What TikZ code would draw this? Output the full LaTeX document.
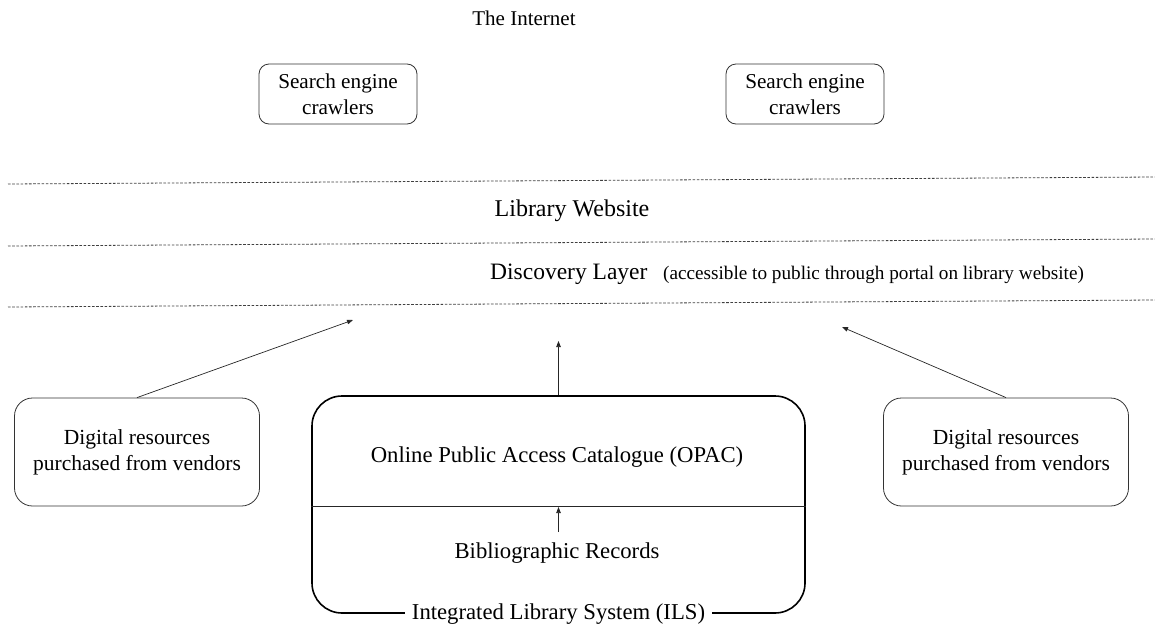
\documentclass[tikz,border=0pt]{standalone}
\usepackage{fontspec}
\setmainfont{Liberation Serif}
\usetikzlibrary{arrows.meta}
\begin{document}
\begin{tikzpicture}[x=1pt,y=-1pt,
  txt/.style={inner sep=0pt,font=\fontsize{22.7}{26}\selectfont,align=center},
  smallbox/.style={draw=black!80,line width=0.8pt,rounded corners=10pt,minimum width=158pt,minimum height=60pt,inner sep=0pt,align=center,font=\fontsize{21.2}{26}\selectfont},
  digbox/.style={draw=black!80,line width=0.8pt,rounded corners=18pt,minimum width=245pt,minimum height=108pt,inner sep=0pt,align=center,font=\fontsize{21.5}{26}\selectfont},
  bigbox/.style={draw=black,line width=1.6pt,rounded corners=30pt,minimum width=493pt,minimum height=217pt,inner sep=0pt},
  dashline/.style={draw=black!75,line width=0.8pt,dash pattern=on 2.6pt off 1.6pt},
  arr/.style={draw=black!85,line width=0.7pt,-{Triangle[length=6pt,width=4.5pt]}}
]
\useasboundingbox (0,0) rectangle (1155,629);

\node[txt,font=\fontsize{21}{26}\selectfont] (internet) at (524,18) {The Internet};
\node[smallbox] (se1) at (338,94) {Search engine\\crawlers};
\node[smallbox] (se2) at (805,94) {Search engine\\crawlers};

\draw[dashline] (8,184) -- (1155,177);
\draw[dashline] (8,246) -- (1155,239);
\draw[dashline] (8,307) -- (1155,300);

\node[txt,font=\fontsize{24}{26}\selectfont] (web) at (572,211) {Library Website};
\node[txt,font=\fontsize{23.5}{26}\selectfont,anchor=west] (disc) at (490,274) {Discovery Layer};
\node[txt,font=\fontsize{19.2}{22}\selectfont,anchor=west] (access) at (663,275) {(accessible to public through portal on library website)};

\node[digbox] (dig1) at (137,452) {Digital resources\\purchased from vendors};
\node[digbox] (dig2) at (1006,452) {Digital resources\\purchased from vendors};

\node[bigbox] (ils) at (558.5,504.5) {};
\draw[black!85,line width=0.8pt] (ils.west |- 0,506) -- (ils.east |- 0,506);
\node[txt] (opac) at (557,457) {Online Public Access Catalogue (OPAC)};
\node[txt] (biblio) at (557,553) {Bibliographic Records};
\node[txt,fill=white,inner xsep=7pt,inner ysep=2pt] (ilslabel) at (ils.south) {Integrated Library System (ILS)};

\coordinate (t1) at (353,320);
\coordinate (t2) at (842,327);
\coordinate (t3) at (558.5,341);
\coordinate (d1) at (558.5,507);
\coordinate (s1) at (558.5,532);

\draw[arr] (dig1.north) -- (t1);
\draw[arr] (dig2.north) -- (t2);
\draw[arr] (ils.north) -- (t3);
\draw[arr] (s1) -- (d1);
\end{tikzpicture}
\end{document}
